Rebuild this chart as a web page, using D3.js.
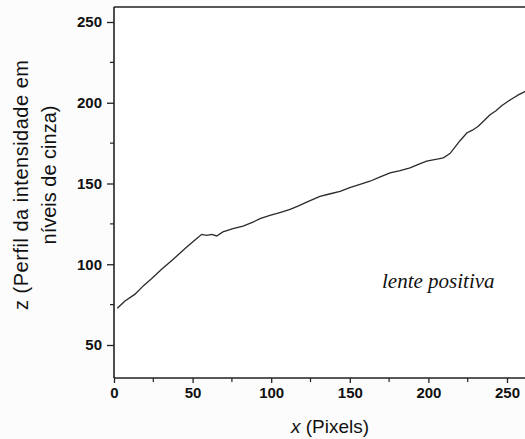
<!DOCTYPE html>
<html><head><meta charset="utf-8">
<script src="https://cdn.jsdelivr.net/npm/d3@7"></script>
<style>body{margin:0;background:#fcfcfc;}svg{display:block;}</style>
</head><body>
<script>
const xValues = [2.1, 7.0, 13.4, 18.6, 24.0, 30.3, 37.7, 45.2, 51.5, 55.8, 59.0, 62.2, 65.3, 69.3, 75.7, 82.1, 88.4, 92.9, 99.2, 105.5, 112.0, 117.0, 122.6, 131.0, 137.0, 143.8, 150.0, 156.0, 162.8, 169.0, 175.6, 182.0, 188.3, 194.0, 198.9, 203.0, 206.3, 209.5, 213.7, 216.9, 220.1, 224.4, 228.0, 231.7, 235.5, 239.2, 243.0, 246.6, 250.5, 254.0, 257.5, 260.4, 262];
const zValues = [72.7, 77.3, 81.5, 86.6, 91.2, 96.9, 103.1, 109.7, 115.0, 118.5, 117.9, 118.5, 117.5, 120.0, 122.0, 123.6, 126.1, 128.2, 130.2, 132.0, 134.0, 136.0, 138.5, 142.0, 143.5, 145.1, 147.5, 149.3, 151.4, 154.0, 156.6, 158.0, 159.7, 162.0, 163.8, 164.6, 165.2, 165.9, 168.5, 172.5, 176.5, 181.3, 183.0, 185.4, 189.0, 192.6, 195.0, 198.1, 200.8, 202.9, 205.0, 206.4, 207.3];
const xTicks = [0, 50, 100, 150, 200, 250];
const yTicks = [50, 100, 150, 200, 250];
const xMinor = [25, 75, 125, 175, 225];
const yMinor = [75, 125, 175, 225];
const xTitleItalic = "x";
const xTitleRest = " (Pixels)";
const yTitleLines = ["z (Perfil da intensidade em", "níveis de cinza)"];
const annotation = "lente positiva";

const W = 525, H = 439;
const svg = d3.select("body").append("svg").attr("width", W).attr("height", H);
svg.append("rect").attr("width", W).attr("height", H).attr("fill", "#fcfcfc");
svg.append("rect").attr("x", 114).attr("y", 7).attr("width", W - 114).attr("height", 371).attr("fill", "#ffffff");

const x = d3.scaleLinear().domain([0, 250]).range([114, 507]);
const y = d3.scaleLinear().domain([50, 250]).range([345, 22]);
const xAxisY = 378, topY = 7;
const sans = "Arial, 'Liberation Sans', sans-serif";

// frame top
svg.append("line").attr("x1", 114).attr("x2", W).attr("y1", topY).attr("y2", topY)
  .attr("stroke", "#222").attr("stroke-width", 1.6);

// x axis
const gx = svg.append("g").attr("transform", `translate(0,${xAxisY})`)
  .call(d3.axisBottom(x).tickValues(xTicks).tickSize(5).tickPadding(4).tickFormat(d3.format("d")));
gx.select(".domain").attr("d", `M114,0H${W}`).attr("stroke", "#222").attr("stroke-width", 1.6);
gx.selectAll(".tick line").attr("stroke", "#222").attr("stroke-width", 1.3);
gx.selectAll(".tick text").attr("font-family", sans)
  .attr("font-size", 15).attr("font-weight", "bold").attr("fill", "#111");
gx.selectAll(".minor").data(xMinor).enter().append("line").attr("class", "minor")
  .attr("x1", d => x(d)).attr("x2", d => x(d)).attr("y1", 0).attr("y2", 4)
  .attr("stroke", "#222").attr("stroke-width", 1.2);

// y axis
const gy = svg.append("g").attr("transform", `translate(114,0)`)
  .call(d3.axisLeft(y).tickValues(yTicks).tickSize(7).tickPadding(5).tickFormat(d3.format("d")));
gy.select(".domain").attr("d", `M0,${topY}V${xAxisY}`).attr("stroke", "#222").attr("stroke-width", 1.6);
gy.selectAll(".tick line").attr("stroke", "#222").attr("stroke-width", 1.3);
gy.selectAll(".tick text").attr("font-family", sans)
  .attr("font-size", 15).attr("font-weight", "bold").attr("fill", "#111");
gy.selectAll(".minor").data(yMinor).enter().append("line").attr("class", "minor")
  .attr("x1", -4).attr("x2", 0).attr("y1", d => y(d)).attr("y2", d => y(d))
  .attr("stroke", "#222").attr("stroke-width", 1.2);

// data line
const pts = xValues.map((v, i) => [v, zValues[i]]);
svg.append("path").datum(pts)
  .attr("d", d3.line().x(d => x(d[0])).y(d => y(d[1])))
  .attr("fill", "none").attr("stroke", "#2a2a2a").attr("stroke-width", 1.3);

// x title
const xt = svg.append("text").attr("x", 330).attr("y", 433).attr("text-anchor", "middle")
  .attr("font-family", sans).attr("font-size", 19).attr("fill", "#111");
xt.append("tspan").attr("font-style", "italic").text(xTitleItalic);
xt.append("tspan").text(xTitleRest);

// y title
const ytPos = [[28, 185, 250], [56, 175, null]];
yTitleLines.forEach((t, i) => {
  const tx = svg.append("text").attr("transform", `translate(${ytPos[i][0]},${ytPos[i][1]}) rotate(-90)`)
    .attr("text-anchor", "middle")
    .attr("font-family", sans).attr("font-size", 20).attr("fill", "#111")
    .text(t);
  if (ytPos[i][2]) tx.attr("textLength", ytPos[i][2]).attr("lengthAdjust", "spacing");
});

// annotation
svg.append("text").attr("x", 382).attr("y", 288)
  .attr("font-family", "'Liberation Serif', 'Times New Roman', serif").attr("font-style", "italic")
  .attr("font-size", 21).attr("fill", "#111").text(annotation);
</script>
</body></html>
